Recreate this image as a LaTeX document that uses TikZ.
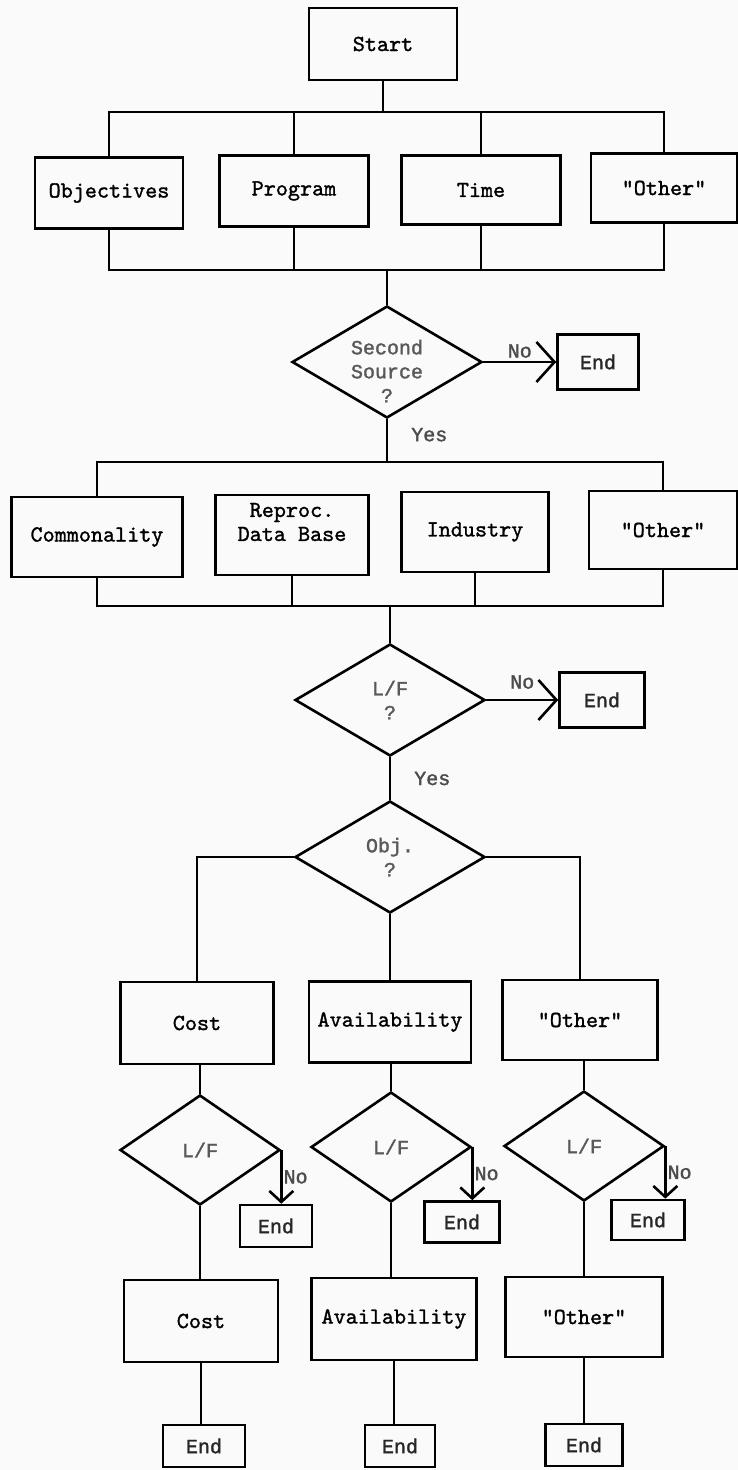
\documentclass[tikz,border=0pt]{standalone}
\usepackage{fontspec}
\newfontfamily\markfont[FakeBold=1.6]{Liberation Mono}
\newfontfamily\cardfam[FakeBold=1.3]{lmmono10-regular.otf}
\usetikzlibrary{arrows.meta, positioning, shapes.geometric}

\newcommand{\cardfont}{\cardfam\fontsize{23}{24}\selectfont}
\newcommand{\askfont}{\markfont\fontsize{20}{24}\selectfont}

\begin{document}
\begin{tikzpicture}[
  x=1pt, y=-1pt,
  box/.style      = {draw, rectangle, line width=2.8pt, inner sep=0pt,
                     align=center, font=\cardfont},
  endbox/.style   = {draw, rectangle, line width=2.6pt, inner sep=0pt,
                     font=\askfont, text=black!85},
  query/.style    = {draw, diamond, aspect=1.7, line width=2.6pt, inner sep=0pt,
                     minimum width=190pt, minimum height=112pt,
                     align=center, font=\askfont, text=black!65},
  subquery/.style = {query, aspect=1.45, minimum width=160pt, minimum height=110pt},
  link/.style     = {line width=2.6pt},
  nolink/.style   = {link, -{Straight Barb[length=18pt, width=40pt]}},
  droplink/.style = {link, -{Straight Barb[length=11pt, width=24pt]}},
  tag/.style      = {font=\askfont, text=black!70, inner sep=1pt},
]
\path[use as bounding box, fill=black!2] (0,0) rectangle (738,1470);

% first level: what drives the review
\node[box, minimum width=148pt, minimum height=72pt] (start) at (383,44)  {Start};
\node[box, minimum width=148pt, minimum height=71pt] (objv)  at (109,193) {Objectives};
\node[box, minimum width=149pt, minimum height=71pt] (prog)  at (294,191) {Program};
\node[box, minimum width=159pt, minimum height=69pt] (time)  at (481,190) {Time};
\node[box, minimum width=146pt, minimum height=69pt] (oth1)  at (664,188) {"Other"};

\coordinate (bus1) at (0,112);
\coordinate (bus2) at (0,270);
\draw[link] (start.south) -- (start.south |- bus1);
\draw[link] (objv.north) |- (bus1 -| oth1.north) -- (oth1.north);
\draw[link] (prog.north) -- (prog.north |- bus1);
\draw[link] (time.north) -- (time.north |- bus1);
\draw[link] (objv.south) |- (bus2 -| oth1.south) -- (oth1.south);
\draw[link] (prog.south) -- (prog.south |- bus2);
\draw[link] (time.south) -- (time.south |- bus2);

% second source decision
\node[query] (ssrc) at (387,362) {};
\node[font=\askfont, text=black!65, align=center] (ssrctext) at ([yshift=-9pt]ssrc.center) {Second\\Source\\?};
\node[endbox, minimum width=81pt, minimum height=55pt] (end1) at (598,362) {End};
\draw[link] (ssrc.north) -- (ssrc.north |- bus2);
\draw[nolink] (ssrc.east) -- node[tag, above=2pt] {No} (end1.west);

\node[box, minimum width=171pt, minimum height=80pt] (comm) at (97,537)  {Commonality};
\node[box, minimum width=153pt, minimum height=80pt] (rdb)  at (292,535) {};
\node[font=\cardfont, align=center] (rdbtext) at ([yshift=13pt]rdb.center) {Reproc.\\Data Base};
\node[box, minimum width=147pt, minimum height=80pt] (ind)  at (475,532) {Industry};
\node[box, minimum width=148pt, minimum height=78pt] (oth2) at (663,530) {"Other"};

\coordinate (bus3) at (0,462);
\coordinate (bus4) at (0,606);
\draw[link] (ssrc.south) -- node[tag, pos=0.36, right=22pt] {Yes} (ssrc.south |- bus3);
\draw[link] (comm.north) |- (bus3 -| oth2.north) -- (oth2.north);
\draw[link] (comm.south) |- (bus4 -| oth2.south) -- (oth2.south);
\draw[link] (rdb.south) -- (rdb.south |- bus4);
\draw[link] (ind.south) -- (ind.south |- bus4);

% L/F and objective split
\node[query] (lf)  at (390,700) {L/F\\?};
\node[endbox, minimum width=85pt, minimum height=55pt] (end2) at (602,700) {End};
\node[query] (obj) at (390,857) {Obj.\\?};
\draw[link] (lf.north) -- (lf.north |- bus4);
\draw[nolink] (lf.east) -- node[tag, above=9pt] {No} (end2.west);
\draw[link] (lf.south) -- node[tag, right=22pt] {Yes} (obj.north);

\node[box, minimum width=153pt, minimum height=82pt] (cost1) at (197,1023) {Cost};
\node[box, minimum width=162pt, minimum height=81pt] (av1)   at (390,1022) {Availability};
\node[box, minimum width=155pt, minimum height=80pt] (oth3)  at (580,1020) {"Other"};
\draw[link] (obj.west) -| (cost1.north);
\draw[link] (obj.east) -| (oth3.north);
\draw[link] (obj.south) -- (av1.north);

% per objective checks
\node[subquery] (lfc) at (200,1150) {L/F};
\node[subquery] (lfa) at (391,1147) {L/F};
\node[subquery] (lfo) at (584,1146) {L/F};
\draw[link] (lfc.north) -- (lfc.north |- cost1.south);
\draw[link] (lfa.north) -- (lfa.north |- av1.south);
\draw[link] (lfo.north) -- (lfo.north |- oth3.south);

\node[endbox, minimum width=72pt, minimum height=42pt] (endc) at (276,1226) {End};
\node[endbox, minimum width=75pt, minimum height=41pt] (enda) at (462,1222) {End};
\node[endbox, minimum width=73pt, minimum height=40pt] (endo) at (648,1220) {End};
\draw[droplink] (lfc.east) -- node[tag, right] {No} (lfc.east |- endc.north);
\draw[droplink] (lfa.east) -- node[tag, right] {No} (lfa.east |- enda.north);
\draw[droplink] (lfo.east) -- node[tag, right] {No} (lfo.east |- endo.north);

\node[box, minimum width=154pt, minimum height=82pt] (cost2) at (201,1321) {Cost};
\node[box, minimum width=165pt, minimum height=82pt] (av2)   at (394,1319) {Availability};
\node[box, minimum width=157pt, minimum height=80pt] (oth4)  at (584,1317) {"Other"};
\draw[link] (lfc.south) -- (lfc.south |- cost2.north);
\draw[link] (lfa.south) -- (lfa.south |- av2.north);
\draw[link] (lfo.south) -- (lfo.south |- oth4.north);

\node[endbox, minimum width=82pt, minimum height=42pt] (endc2) at (204,1446) {End};
\node[endbox, minimum width=70pt, minimum height=42pt] (enda2) at (400,1446) {End};
\node[endbox, minimum width=77pt, minimum height=42pt] (endo2) at (584,1445) {End};
\draw[link] (cost2.south) -- (cost2.south |- endc2.north);
\draw[link] (av2.south) -- (av2.south |- enda2.north);
\draw[link] (oth4.south) -- (oth4.south |- endo2.north);
\end{tikzpicture}
\end{document}
